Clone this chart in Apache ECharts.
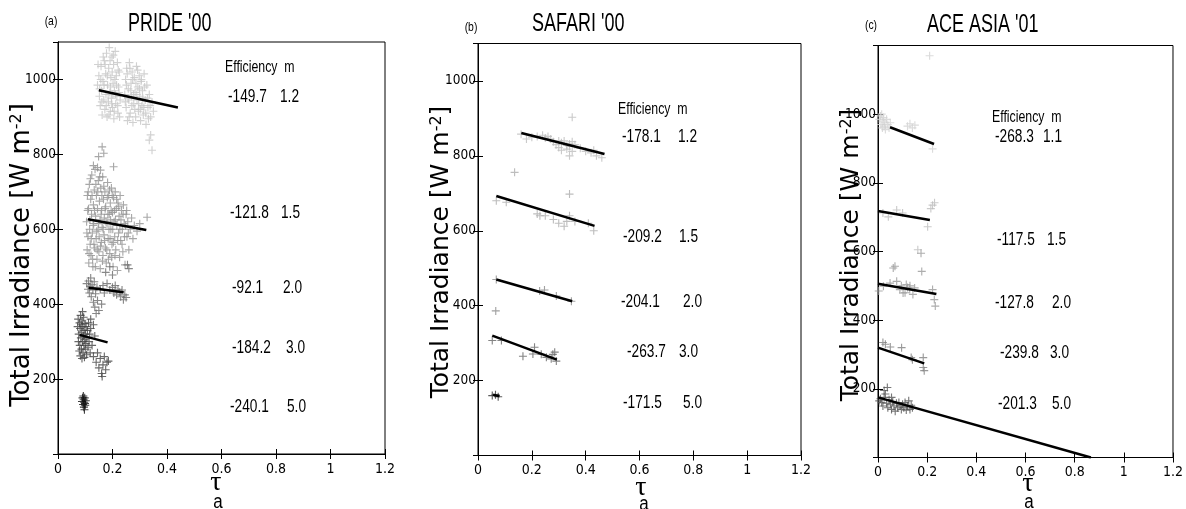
<!DOCTYPE html>
<html>
<head>
<meta charset="utf-8">
<title>Total irradiance vs aerosol optical depth</title>
<script src="https://cdn.jsdelivr.net/npm/echarts@6.0.0/dist/echarts.min.js"></script>
<style>
  html, body { margin: 0; padding: 0; background: #fff; }
  #chart { width: 1186px; height: 509px; }
</style>
</head>
<body>
<div id="chart"></div>
<script>
// axes
const xMin = 0
const xMax = 1.2
const xStep = 0.2
const yStep = 200
const yMaxes = [1100, 1100, 1200]

const panelTags = ['(a)', '(b)', '(c)']
const panelTitles = ["PRIDE '00", "SAFARI '00", "ACE ASIA '01"]

// efficiency / m tables
const prideEff = ['-149.7', '-121.8', '-92.1', '-184.2', '-240.1']
const prideM = ['1.2', '1.5', '2.0', '3.0', '5.0']
const safariEff = ['-178.1', '-209.2', '-204.1', '-263.7', '-171.5']
const safariM = ['1.2', '1.5', '2.0', '3.0', '5.0']
const aceEff = ['-268.3', '-117.5', '-127.8', '-239.8', '-201.3']
const aceM = ['1.1', '1.5', '2.0', '3.0', '5.0']

// ---- PRIDE '00 : [tau_a, irradiance]
const prideM12 = [
  [0.145, 985], [0.15, 1010], [0.152, 955], [0.155, 930], [0.158, 1035], [0.16, 970], [0.162, 905], [0.165, 995],
  [0.168, 945], [0.17, 1050], [0.172, 920], [0.175, 1015], [0.176, 960], [0.178, 1070], [0.18, 900], [0.182, 985],
  [0.185, 940], [0.186, 1030], [0.188, 1085], [0.19, 965], [0.192, 915], [0.194, 1005], [0.196, 950], [0.198, 1060],
  [0.2, 925], [0.202, 990], [0.204, 1040], [0.205, 895], [0.207, 970], [0.21, 1075], [0.212, 935], [0.214, 1010],
  [0.216, 955], [0.218, 1045], [0.22, 910], [0.222, 980], [0.225, 1020], [0.228, 945],
  [0.147, 1040], [0.153, 975], [0.157, 1000], [0.161, 940], [0.166, 1060], [0.169, 985], [0.173, 1040], [0.177, 930],
  [0.181, 1010], [0.184, 960], [0.187, 905], [0.191, 1050], [0.193, 980], [0.197, 935], [0.199, 1020], [0.201, 960],
  [0.203, 1065], [0.206, 915], [0.209, 1000], [0.211, 960], [0.215, 985], [0.219, 930], [0.221, 1025], [0.224, 965],
  [0.226, 900],
  [0.245, 960], [0.248, 1000], [0.25, 925], [0.252, 1030], [0.255, 890], [0.258, 975], [0.26, 945], [0.262, 1045],
  [0.265, 910], [0.268, 990], [0.27, 955], [0.272, 1020], [0.275, 885], [0.278, 935], [0.28, 1005], [0.283, 965],
  [0.285, 900], [0.288, 1035], [0.29, 945], [0.293, 980], [0.295, 915], [0.298, 1010], [0.3, 955], [0.303, 890],
  [0.305, 995], [0.308, 930], [0.31, 970], [0.313, 905], [0.316, 1015], [0.32, 945], [0.323, 880], [0.326, 985],
  [0.33, 925], [0.335, 960], [0.34, 900], [0.345, 940], [0.35, 915],
  [0.247, 940], [0.251, 985], [0.254, 1015], [0.257, 950], [0.261, 900], [0.264, 1030], [0.267, 970], [0.271, 930],
  [0.274, 1000], [0.277, 960], [0.282, 920], [0.286, 990], [0.289, 960], [0.292, 1025], [0.296, 935], [0.299, 975],
  [0.302, 920], [0.306, 1000], [0.311, 950], [0.315, 925], [0.318, 980], [0.322, 910], [0.328, 950], [0.332, 895],
  [0.338, 930],
  [0.34, 852], [0.345, 811], [0.335, 838]
]
const prideM15 = [
  [0.105, 620], [0.107, 545], [0.108, 690], [0.11, 580], [0.112, 655], [0.113, 510], [0.115, 720], [0.116, 600],
  [0.118, 560], [0.12, 680], [0.121, 530], [0.123, 640], [0.124, 745], [0.126, 590], [0.128, 500], [0.13, 665],
  [0.131, 615], [0.133, 705], [0.135, 550], [0.136, 760], [0.138, 635], [0.14, 575], [0.141, 690], [0.143, 520],
  [0.145, 655], [0.147, 600], [0.148, 730], [0.15, 540], [0.152, 675], [0.154, 625], [0.155, 495], [0.157, 710],
  [0.159, 565], [0.16, 650], [0.162, 605], [0.164, 740], [0.165, 530], [0.167, 680], [0.169, 585], [0.17, 630],
  [0.172, 700], [0.174, 550], [0.175, 660], [0.177, 510], [0.18, 615], [0.182, 725], [0.184, 575], [0.186, 690],
  [0.188, 640], [0.19, 535], [0.192, 670], [0.194, 600], [0.196, 710], [0.198, 560], [0.2, 645], [0.202, 500],
  [0.204, 685], [0.206, 620], [0.208, 580], [0.21, 700], [0.212, 545], [0.214, 655], [0.216, 610], [0.218, 490],
  [0.22, 670], [0.222, 590], [0.224, 635], [0.226, 525], [0.228, 690], [0.23, 570], [0.233, 650], [0.236, 600],
  [0.238, 540], [0.24, 665], [0.243, 615], [0.246, 505], [0.25, 640], [0.253, 580], [0.256, 620], [0.26, 545],
  [0.265, 600], [0.27, 630], [0.275, 575], [0.28, 610], [0.29, 595], [0.3, 615], [0.327, 632],
  [0.106, 590], [0.109, 650], [0.111, 700], [0.114, 535], [0.117, 625], [0.119, 735], [0.122, 575], [0.125, 690],
  [0.127, 520], [0.129, 610], [0.132, 560], [0.134, 650], [0.137, 500], [0.139, 720], [0.142, 595], [0.144, 545],
  [0.146, 700], [0.149, 615], [0.151, 580], [0.153, 740], [0.156, 555], [0.158, 640], [0.161, 690], [0.163, 515],
  [0.166, 600], [0.168, 715], [0.171, 570], [0.173, 655], [0.176, 620], [0.179, 545], [0.181, 685], [0.183, 640],
  [0.185, 520], [0.187, 600], [0.189, 705], [0.191, 575], [0.193, 625], [0.195, 650], [0.197, 525], [0.199, 690],
  [0.201, 600], [0.203, 565], [0.207, 650], [0.209, 530], [0.211, 625], [0.215, 680], [0.219, 570], [0.223, 660],
  [0.227, 600], [0.231, 625], [0.235, 560], [0.239, 640], [0.244, 580], [0.248, 610], [0.252, 650], [0.258, 590],
  [0.156, 758], [0.204, 767], [0.149, 794], [0.162, 820], [0.168, 803], [0.13, 770], [0.145, 765]
]
const prideM20 = [
  [0.105, 455], [0.11, 440], [0.112, 462], [0.115, 430], [0.118, 448], [0.12, 470], [0.122, 420], [0.125, 452],
  [0.128, 438], [0.13, 405], [0.133, 460], [0.135, 392], [0.138, 428], [0.14, 375], [0.143, 445], [0.145, 410],
  [0.15, 383], [0.155, 440], [0.16, 400], [0.165, 450], [0.17, 430], [0.18, 455], [0.19, 438], [0.2, 445],
  [0.205, 430], [0.21, 450], [0.215, 425], [0.22, 440], [0.225, 432], [0.23, 420], [0.235, 438], [0.24, 412],
  [0.245, 425], [0.25, 418], [0.255, 505], [0.26, 495], [0.175, 485], [0.19, 500], [0.2, 478]
]
const prideM30 = [
  [0.072, 340], [0.074, 360], [0.075, 300], [0.076, 320], [0.078, 275], [0.079, 350], [0.08, 290], [0.081, 335],
  [0.082, 262], [0.083, 370], [0.084, 310], [0.085, 345], [0.086, 280], [0.087, 325], [0.088, 255], [0.089, 355],
  [0.09, 300], [0.091, 340], [0.092, 270], [0.093, 315], [0.094, 365], [0.095, 290], [0.096, 330], [0.097, 258],
  [0.098, 305], [0.099, 348], [0.1, 280], [0.101, 320], [0.102, 295], [0.103, 340], [0.105, 265], [0.106, 310],
  [0.108, 330], [0.11, 285], [0.112, 350], [0.114, 300], [0.116, 320], [0.118, 270], [0.12, 335], [0.125, 290],
  [0.13, 260], [0.135, 315], [0.14, 245], [0.145, 270], [0.15, 230], [0.155, 255], [0.16, 215], [0.165, 238],
  [0.17, 260], [0.175, 225], [0.18, 245], [0.185, 248], [0.162, 207], [0.12, 360], [0.13, 345], [0.09, 380]
]
const prideM50 = [
  [0.088, 140], [0.09, 150], [0.092, 132], [0.094, 145], [0.095, 125], [0.096, 138], [0.098, 150], [0.1, 130],
  [0.102, 142], [0.097, 118], [0.093, 155], [0.099, 135]
]
const prideFits = [
  [[0.15, 971], [0.44, 925]],
  [[0.11, 627], [0.324, 598]],
  [[0.112, 444], [0.241, 432]],
  [[0.079, 318], [0.182, 298]]
]

// ---- SAFARI '00
const safariM12 = [
  [0.16, 858], [0.18, 845], [0.2, 850], [0.22, 852], [0.24, 855], [0.25, 848], [0.26, 852], [0.27, 845],
  [0.28, 838], [0.29, 830], [0.3, 822], [0.3, 840], [0.31, 815], [0.31, 835], [0.32, 840], [0.33, 828],
  [0.33, 818], [0.34, 832], [0.34, 825], [0.35, 812], [0.35, 838], [0.36, 830], [0.34, 800], [0.38, 820],
  [0.4, 812], [0.42, 808], [0.43, 815], [0.44, 800], [0.46, 795], [0.35, 903]
]
const safariM15 = [
  [0.068, 680], [0.105, 676], [0.136, 756], [0.34, 698], [0.22, 645], [0.23, 640], [0.25, 640], [0.28, 630],
  [0.3, 620], [0.32, 612], [0.34, 640], [0.33, 625], [0.36, 625], [0.41, 620], [0.43, 600]
]
const safariM20 = [
  [0.068, 470], [0.066, 386], [0.229, 439], [0.247, 442], [0.291, 426], [0.347, 412]
]
const safariM30 = [
  [0.053, 307], [0.087, 307], [0.167, 265], [0.204, 271], [0.21, 289], [0.235, 270], [0.254, 262], [0.278, 270],
  [0.285, 276], [0.291, 252], [0.272, 258]
]
const safariM50 = [
  [0.053, 160], [0.075, 157], [0.065, 162]
]
const safariFits = [
  [[0.161, 861], [0.47, 805]],
  [[0.068, 693], [0.433, 613]],
  [[0.068, 470], [0.35, 412]],
  [[0.053, 320], [0.293, 256]],
  [[0.056, 162], [0.08, 158]]
]

// ---- ACE ASIA '01
const aceM11 = [
  [0.005, 985], [0.01, 995], [0.012, 970], [0.015, 1000], [0.018, 960], [0.02, 980], [0.022, 990], [0.025, 965],
  [0.028, 975], [0.03, 955], [0.035, 985], [0.04, 970], [0.045, 960], [0.05, 975], [0.12, 965], [0.13, 972],
  [0.14, 960], [0.15, 968], [0.222, 899], [0.21, 1170]
]
const aceM15 = [
  [0.042, 701], [0.076, 721], [0.202, 672], [0.215, 725], [0.222, 735], [0.23, 742], [0.162, 605], [0.1, 712], [0.02, 712]
]
const aceM20 = [
  [0.022, 499], [0.049, 508], [0.062, 552], [0.069, 557], [0.076, 513], [0.089, 489], [0.102, 479], [0.115, 504],
  [0.12, 495], [0.129, 489], [0.142, 475], [0.149, 494], [0.175, 595], [0.178, 542], [0.222, 489], [0.229, 460],
  [0.233, 441], [0.095, 500], [0.11, 480], [0.13, 500], [0.003, 485]
]
const aceM30 = [
  [0.02, 335], [0.03, 330], [0.05, 322], [0.096, 320], [0.135, 291], [0.184, 291], [0.184, 262], [0.188, 253], [0.14, 285]
]
const aceM50 = [
  [0.005, 165], [0.01, 171], [0.015, 160], [0.02, 150], [0.025, 175], [0.03, 185], [0.035, 158], [0.038, 204],
  [0.04, 145], [0.045, 168], [0.05, 155], [0.055, 140], [0.06, 162], [0.065, 150], [0.07, 135], [0.075, 158],
  [0.08, 145], [0.085, 160], [0.09, 150], [0.095, 140], [0.1, 155], [0.105, 145], [0.11, 160], [0.115, 138],
  [0.12, 150], [0.125, 165], [0.13, 140], [0.135, 152], [0.14, 145], [0.055, 175], [0.025, 195]
]
const aceFits = [
  [[0.049, 962], [0.228, 913]],
  [[0, 718], [0.211, 692]],
  [[0, 506], [0.2375, 476]],
  [[0, 320], [0.188, 274]],
  [[0, 175], [0.866, 0]]
]

// ---- layout / styling
const NARROW = '"Liberation Sans Narrow", "DejaVu Sans Condensed", sans-serif'
const SANS = '"Liberation Sans", Arial, sans-serif'
const WIDE = '"DejaVu Sans", "Liberation Sans", sans-serif'
const SERIF = '"Liberation Serif", "DejaVu Serif", serif'
const CROSS = 'path://M4.3,0H5.7V4.3H10V5.7H5.7V10H4.3V5.7H0V4.3H4.3Z'

const panels = [
  {
    grid: { left: 58, top: 42, width: 327, height: 412 },
    groups: [prideM12, prideM15, prideM20, prideM30, prideM50],
    colors: ['#c6c6c6', '#929292', '#6a6a6a', '#444444', '#111111'],
    fits: prideFits, eff: prideEff, m: prideM,
    tag: [51, 21], title: [128, 24], header: [225, 68],
    rows: [[228, 280, 97], [230, 281, 213], [232, 283, 288], [232, 286, 348], [230, 287, 407]],
    yName: [22, 255, 26], tau: [216, 483], sub: [218, 502]
  },
  {
    grid: { left: 478, top: 43.5, width: 323, height: 412 },
    groups: [safariM12, safariM15, safariM20, safariM30, safariM50],
    colors: ['#bdbdbd', '#acacac', '#8a8a8a', '#666666', '#333333'],
    fits: safariFits, eff: safariEff, m: safariM,
    tag: [471, 27], title: [532, 24], header: [618, 110],
    rows: [[622, 678, 137], [623, 679, 237], [621, 683, 302], [627, 679, 352], [623, 683, 403]],
    yName: [441, 252, 25], tau: [641, 488], sub: [644, 504]
  },
  {
    grid: { left: 878, top: 45.5, width: 302, height: 412 },
    groups: [aceM11, aceM15, aceM20, aceM30, aceM50],
    colors: ['#d2d2d2', '#bdbdbd', '#999999', '#808080', '#555555'],
    fits: aceFits, eff: aceEff, m: aceM,
    tag: [871, 25], title: [927, 25], header: [992, 118],
    rows: [[995, 1043, 137], [997, 1047, 240], [995, 1052, 303], [1000, 1050, 353], [998, 1052, 404]],
    yName: [851, 255, 25], tau: [1028, 484], sub: [1029, 502]
  }
]

function text (x, y, str, size, family, align, sx, extra) {
  return {
    type: 'text',
    x: x,
    y: y,
    scaleX: sx || 1,
    silent: true,
    style: Object.assign({
      text: str,
      font: size + 'px ' + family,
      fontSize: size,
      fontFamily: family,
      fill: '#000',
      align: align || 'left',
      textAlign: align || 'left',
      verticalAlign: 'middle',
      textVerticalAlign: 'middle'
    }, extra || {})
  }
}

const grids = []
const xAxes = []
const yAxes = []
const series = []
const graphics = []

panels.forEach(function (p, i) {
  grids.push(Object.assign({ show: true, borderColor: '#000', borderWidth: 1, backgroundColor: 'transparent' }, p.grid))

  const tickStyle = { show: true, inside: true, length: 5, lineStyle: { color: '#000', width: 1 } }
  const lineStyle = { show: true, lineStyle: { color: '#000', width: 1 } }
  const plain = function (v) { return String(v) }

  xAxes.push({
    gridIndex: i, type: 'value', position: 'bottom', min: xMin, max: xMax, interval: xStep,
    axisLine: lineStyle, axisTick: tickStyle, splitLine: { show: false },
    axisLabel: { color: '#000', fontSize: 14, fontFamily: NARROW, margin: 8, formatter: plain }
  })
  xAxes.push({
    gridIndex: i, type: 'value', position: 'top', min: xMin, max: xMax, interval: xStep,
    axisLine: lineStyle, axisTick: tickStyle, splitLine: { show: false }, axisLabel: { show: false }
  })
  yAxes.push({
    gridIndex: i, type: 'value', position: 'left', min: 0, max: yMaxes[i], interval: yStep,
    axisLine: lineStyle, axisTick: tickStyle, splitLine: { show: false },
    axisLabel: { color: '#000', fontSize: 13.5, fontFamily: NARROW, margin: 2, showMinLabel: false, showMaxLabel: false, formatter: plain }
  })
  yAxes.push({
    gridIndex: i, type: 'value', position: 'right', min: 0, max: yMaxes[i], interval: yStep,
    axisLine: lineStyle, axisTick: tickStyle, splitLine: { show: false }, axisLabel: { show: false }
  })

  p.groups.forEach(function (pts, g) {
    series.push({
      type: 'scatter', xAxisIndex: 2 * i, yAxisIndex: 2 * i,
      symbol: CROSS, symbolSize: 8, silent: true,
      itemStyle: { color: p.colors[g] },
      data: pts, z: 2
    })
  })
  p.fits.forEach(function (seg) {
    series.push({
      type: 'line', xAxisIndex: 2 * i, yAxisIndex: 2 * i,
      showSymbol: false, symbol: 'none', silent: true,
      lineStyle: { color: '#000', width: 2.5 },
      data: seg, z: 3
    })
  })

  graphics.push(text(p.tag[0], p.tag[1], panelTags[i], 13, SANS, 'center', 0.8))
  graphics.push(text(p.title[0], p.title[1], panelTitles[i], 25, SANS, 'left', 0.72))
  graphics.push(text(p.header[0], p.header[1], 'Efficiency  m', 16, SANS, 'left', 0.77))
  p.rows.forEach(function (r, k) {
    graphics.push(text(r[0], r[2], p.eff[k], 18, SANS, 'left', 0.76))
    graphics.push(text(r[1], r[2], p.m[k], 18, SANS, 'left', 0.76))
  })

  const ny = p.yName
  const yn = text(ny[0], ny[1], '{a|Total Irradiance [W m}{s|-2}{a|]}', ny[2], WIDE, 'center', 1, {
    rich: {
      a: { fontSize: ny[2], fontFamily: WIDE, fill: '#000', color: '#000' },
      s: { fontSize: 16, fontFamily: WIDE, fill: '#000', color: '#000', verticalAlign: 'top' }
    }
  })
  yn.rotation = Math.PI / 2
  graphics.push(yn)

  graphics.push(text(p.tau[0], p.tau[1], '\u03c4', 28, SERIF, 'center'))
  graphics.push(text(p.sub[0], p.sub[1], 'a', 20, SANS, 'center', 0.85))
})

const chart = echarts.init(document.getElementById('chart'))
chart.setOption({
  animation: false,
  backgroundColor: '#fff',
  grid: grids,
  xAxis: xAxes,
  yAxis: yAxes,
  series: series,
  graphic: { elements: graphics }
})
</script>
</body>
</html>
